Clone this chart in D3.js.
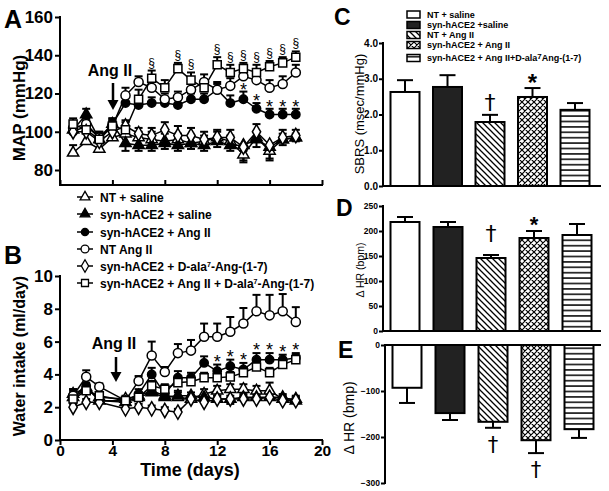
<!DOCTYPE html>
<html><head><meta charset="utf-8">
<script src="https://cdn.jsdelivr.net/npm/d3@7"></script>
<style>
body{margin:0;background:#fff}
svg{display:block}
text{font-family:"Liberation Sans",Arial,Helvetica,sans-serif;fill:#000}
</style>
</head><body>
<svg id="chart" width="609" height="491"></svg>
<script>
// ---------------- DATA ----------------
const seriesNames = ["NT + saline","syn-hACE2 + saline","syn-hACE2 + Ang II","NT Ang II","syn-hACE2 + D-ala7-Ang-(1-7)","syn-hACE2 + Ang II + D-ala7-Ang-(1-7)"];

// Panel A: MAP (mmHg), days 1-18
const daysA = [1,2,3,4,5,6,7,8,9,10,11,12,13,14,15,16,17,18];
const mapNTsaline   = [89,95,91,97,99,97,96,95,96,94,95,97,95,88,97,90,96,97];
const mapSynSaline  = [101,109,96,104,94,93,93,94,93,94,93,95,93,93,96,92,96,97];
const mapSynAngII   = [100,103,97,104,115,114,115,115,114,117,117,122,115,117,112,109,109,109];
const mapNTAngII    = [102,104,97,103,119,126,123,117,118,122,126,122,124,129,127,123,125,131];
const mapSynDala    = [100,100,95,100,103,99,98,101,98,98,96,97,97,92,100,93,97,98];
const mapSynAngDala = [104,101,96,103,101,117,128,123,133,127,123,135,131,133,131,134,136,139];
const mapErrNTsaline   = [4,4,3,3,3,3,4,4,3,3,3,3,3,-3,3,-4,3,2];
const mapErrSynSaline  = [3,3,3,3,-4,-3,-3,-3,-3,-3,-3,-3,-3,-3,-4,-3,-3,-2];
const mapErrSynAngII   = [3,3,3,3,4,4,3,3,3,3,3,4,4,4,3,3,3,3];
const mapErrNTAngII    = [3,3,3,3,4,3,3,3,3,3,4,3,4,3,4,4,4,4];
const mapErrSynDala    = [3,3,3,3,3,3,4,4,5,4,4,4,4,-8,4,-8,4,3];
const mapErrSynAngDala = [3,3,3,3,4,5,4,4,3,4,4,4,4,3,4,3,3,3];
const mapSectionDays  = [7,9,10,12,13,14,15,16,17,18];   // § markers
const mapAsteriskDays = [14,15,16,17,18];                 // * markers

// Panel B: Water intake (ml/day), day 4 not measured
const daysB = [1,2,3,5,6,7,8,9,10,11,12,13,14,15,16,17,18];
const wiNTsaline   = [2.6,3.1,2.6,2.5,2.7,3.0,2.7,2.6,2.5,2.8,3.0,3.1,3.1,3.0,3.0,2.5,2.5];
const wiSynSaline  = [2.8,3.2,2.4,2.3,2.6,2.9,2.6,2.7,2.7,2.6,2.5,2.5,2.6,2.6,2.6,2.6,2.4];
const wiSynAngII   = [2.6,3.3,2.4,2.4,2.8,4.0,2.8,3.8,3.8,4.7,4.2,4.5,4.3,4.9,4.9,4.9,5.0];
const wiNTAngII    = [2.7,3.85,3.25,2.4,3.6,5.15,4.15,5.3,5.45,6.3,6.3,6.6,7.1,7.85,7.6,7.85,7.2];
const wiSynDala    = [2.0,2.3,2.3,1.9,2.0,1.9,1.8,1.7,2.5,2.3,2.5,2.5,2.5,2.5,2.6,2.4,2.4];
const wiSynAngDala = [2.5,3.0,2.7,2.4,2.6,3.3,3.1,3.5,3.55,3.8,3.8,3.85,4.1,4.45,4.1,4.6,4.9];
const wiErrNTsaline   = [0.3,0.3,0.2,0.2,0.2,0.3,0.3,0.3,0.2,0.3,0.3,0.3,0.3,0.3,0.5,0.2,0.2];
const wiErrSynSaline  = [0.3,0.3,0.2,0.2,0.2,0.3,0.3,0.3,0.2,0.2,0.2,-0.3,0.2,0.2,0.2,0.2,0.2];
const wiErrSynAngII   = [0.4,0.4,0.2,0.2,0.3,0.4,0.3,0.4,0.3,0.4,0.4,0.4,0.4,0.4,0.4,0.3,0.3];
const wiErrNTAngII    = [0.4,0.4,0.2,0.2,0.3,0.85,0.3,0.55,0.65,0.8,0.8,0.9,0.95,1.0,1.25,1.05,0.9];
const wiErrSynDala    = [0.2,0.2,0.2,0.2,0.2,0.2,0.2,0.2,0.2,0.2,0.2,0.2,0.2,0.2,0.2,0.2,0.2];
const wiErrSynAngDala = [0.3,0.3,0.2,0.2,0.2,0.3,0.3,0.3,0.3,0.3,0.3,0.3,0.3,0.3,0.3,0.3,0.3];
const wiAsteriskDays = [12,13,14,15,16,17,18];

const xTicks = [0,4,8,12,16,20];
const mapTicks = [80,100,120,140,160];
const wiTicks = [0,2,4,6,8,10];

// Panels C-E: bar groups
const barGroups = ["NT + saline","syn-hACE2 +saline","NT + Ang II","syn-hACE2 + Ang II","syn-hACE2 + Ang II+D-ala7Ang-(1-7)"];
const sbrs    = [2.63,2.77,1.79,2.49,2.13];
const sbrsErr = [0.33,0.33,0.20,0.25,0.19];
const dhrUp    = [218,208,146,186,192];
const dhrUpErr = [10,10,6,14,22];
const dhrDown    = [-93,-148,-167,-207,-183];
const dhrDownErr = [-33,-15,-13,-28,-19];
const sbrsTicks = [0,1,2,3,4];
const dhrUpTicks = [0,50,100,150,200,250];
const dhrDownTicks = [0,-100,-200,-300];
const cDagger = [2], cStar = [3];
const dDagger = [2], dStar = [3];
const eDagger = [2,3];

// ---------------- DRAW ----------------
const svg = d3.select("#chart");
const FONT = '"Liberation Sans",Arial,sans-serif';
const defs = svg.append("defs");
defs.append("pattern").attr("id","pDiag").attr("patternUnits","userSpaceOnUse")
  .attr("width",6).attr("height",6)
  .append("path").attr("d","M0,0L6,6M-1,5L1,7M5,-1L7,1").attr("stroke","#000").attr("stroke-width",1.3);
const pc = defs.append("pattern").attr("id","pCross").attr("patternUnits","userSpaceOnUse")
  .attr("width",6).attr("height",6);
pc.append("rect").attr("width",6).attr("height",6).attr("fill","#fff");
pc.append("path").attr("d","M0,0L6,6M6,0L0,6M-1,5L1,7M5,-1L7,1M-1,1L1,-1M5,7L7,5").attr("stroke","#000").attr("stroke-width",1.2);
defs.append("pattern").attr("id","pHoriz").attr("patternUnits","userSpaceOnUse")
  .attr("width",6).attr("height",5.4)
  .append("path").attr("d","M0,2.7H6").attr("stroke","#000").attr("stroke-width",1.5);

const styles = [
  {sym:d3.symbolTriangle, fill:"#fff", size:55},
  {sym:d3.symbolTriangle, fill:"#000", size:55},
  {sym:d3.symbolCircle,   fill:"#000", size:55},
  {sym:d3.symbolCircle,   fill:"#fff", size:65},
  {sym:d3.symbolDiamond,  fill:"#fff", size:60},
  {sym:d3.symbolSquare,   fill:"#fff", size:65}
];

const x = d3.scaleLinear().domain([0,20]).range([60,322]);

function drawLinePanel(g, y, xs, valsList, errList) {
  const line = d3.line().x((d,i)=>x(xs[i])).y(d=>y(d));
  valsList.forEach((vals,k)=>{
    g.append("path").attr("d",line(vals)).attr("fill","none").attr("stroke","#000").attr("stroke-width",1.5);
  });
  valsList.forEach((vals,k)=>{
    const errs = errList[k];
    vals.forEach((v,i)=>{
      const e = errs[i];
      const y0 = y(v), y1 = y(v+e), cx = x(xs[i]);
      g.append("line").attr("x1",cx).attr("x2",cx).attr("y1",y0).attr("y2",y1).attr("stroke","#000").attr("stroke-width",2);
      g.append("line").attr("x1",cx-4).attr("x2",cx+4).attr("y1",y1).attr("y2",y1).attr("stroke","#000").attr("stroke-width",2);
    });
  });
  valsList.forEach((vals,k)=>{
    const st = styles[k];
    g.selectAll(null).data(vals).enter().append("path")
      .attr("d", d3.symbol().type(st.sym).size(st.size))
      .attr("transform",(d,i)=>`translate(${x(xs[i])},${y(d)})`)
      .attr("fill",st.fill).attr("stroke","#000").attr("stroke-width",1.5);
  });
}

function styleAxis(sel, fs, bold) {
  sel.selectAll("text").style("font-family",FONT).style("font-size",fs+"px").style("font-weight",bold?"bold":"normal").attr("fill","#000");
  sel.selectAll("line").attr("stroke","#000").attr("stroke-width",2);
  sel.select(".domain").remove();
}

// ---- Panel A ----
const yA = d3.scaleLinear().domain([80,160]).range([170,17]);
const gA = svg.append("g");
gA.append("g").attr("transform","translate(60,0)")
  .call(d3.axisLeft(yA).tickValues(mapTicks).tickSize(5).tickPadding(2))
  .call(s=>styleAxis(s,17,true));
gA.append("line").attr("x1",60).attr("x2",60).attr("y1",yA(160)-1).attr("y2",186).attr("stroke","#000").attr("stroke-width",2);
gA.append("g").attr("transform","translate(0,185)")
  .call(d3.axisBottom(x).tickValues(xTicks).tickSize(-5).tickFormat(""))
  .call(s=>styleAxis(s,12,true));
gA.append("line").attr("x1",59).attr("x2",323).attr("y1",185).attr("y2",185).attr("stroke","#000").attr("stroke-width",2);

const mapVals = [mapNTsaline,mapSynSaline,mapSynAngII,mapNTAngII,mapSynDala,mapSynAngDala];
const mapErrs = [mapErrNTsaline,mapErrSynSaline,mapErrSynAngII,mapErrNTAngII,mapErrSynDala,mapErrSynAngDala];
drawLinePanel(gA, yA, daysA, mapVals, mapErrs);
mapSectionDays.forEach(d=>{
  const i = daysA.indexOf(d);
  gA.append("text").attr("x",x(d)).attr("y",yA(mapSynAngDala[i]+mapErrSynAngDala[i])-4)
    .attr("text-anchor","middle").style("font-size","12px").text("§");
});
mapAsteriskDays.forEach(d=>{
  const i = daysA.indexOf(d);
  gA.append("text").attr("x",x(d)).attr("y",yA(mapSynAngII[i]+mapErrSynAngII[i])+4)
    .attr("text-anchor","middle").style("font-size","18px").text("*");
});
gA.append("text").attr("x",110).attr("y",76).attr("text-anchor","middle")
  .style("font-size","16px").style("font-weight","bold").text("Ang II");
gA.append("line").attr("x1",113).attr("x2",113).attr("y1",83).attr("y2",103).attr("stroke","#000").attr("stroke-width",2.5);
gA.append("path").attr("d","M107.5,100L118.5,100L113,110Z").attr("fill","#000");
gA.append("text").attr("transform","translate(25,108) rotate(-90)").attr("text-anchor","middle")
  .style("font-size","17px").style("font-weight","bold").text("MAP (mmHg)");
svg.append("text").attr("x",4).attr("y",28).style("font-size","25px").style("font-weight","bold").text("A");

// ---- Legend A/B ----
const legY = [197,214,232,249,266,283];
const gL = svg.append("g");
seriesNames.forEach((n,k)=>{
  const yy = legY[k];
  gL.append("line").attr("x1",77).attr("x2",93).attr("y1",yy).attr("y2",yy).attr("stroke","#000").attr("stroke-width",1.5);
  gL.append("path").attr("d",d3.symbol().type(styles[k].sym).size(styles[k].size*0.75)())
    .attr("transform",`translate(85,${yy})`).attr("fill",styles[k].fill).attr("stroke","#000").attr("stroke-width",1.3);
  const t = gL.append("text").attr("x",100).attr("y",yy+4.5).style("font-size","12px").style("font-weight","bold");
  if (n.includes("D-ala7")) {
    const parts = n.split("D-ala7");
    t.append("tspan").text(parts[0]+"D-ala");
    t.append("tspan").attr("dy",-4).style("font-size","7px").text("7");
    t.append("tspan").attr("dy",4).text(parts[1]);
  } else t.text(n);
});

// ---- Panel B ----
const yB = d3.scaleLinear().domain([0,10]).range([440,276]);
const gB = svg.append("g");
gB.append("g").attr("transform","translate(60,0)")
  .call(d3.axisLeft(yB).tickValues(wiTicks).tickSize(5).tickPadding(2))
  .call(s=>styleAxis(s,17,true));
gB.append("line").attr("x1",60).attr("x2",60).attr("y1",275).attr("y2",441).attr("stroke","#000").attr("stroke-width",2);
gB.append("g").attr("transform","translate(0,440)")
  .call(d3.axisBottom(x).tickValues(xTicks).tickSize(5).tickPadding(0))
  .call(s=>styleAxis(s,15.5,true));
gB.append("line").attr("x1",59).attr("x2",323).attr("y1",440).attr("y2",440).attr("stroke","#000").attr("stroke-width",2);
const wiVals = [wiNTsaline,wiSynSaline,wiSynAngII,wiNTAngII,wiSynDala,wiSynAngDala];
const wiErrs = [wiErrNTsaline,wiErrSynSaline,wiErrSynAngII,wiErrNTAngII,wiErrSynDala,wiErrSynAngDala];
drawLinePanel(gB, yB, daysB, wiVals, wiErrs);
wiAsteriskDays.forEach(d=>{
  const i = daysB.indexOf(d);
  gB.append("text").attr("x",x(d)).attr("y",yB(wiSynAngII[i]+wiErrSynAngII[i])+3)
    .attr("text-anchor","middle").style("font-size","18px").text("*");
});
gB.append("text").attr("x",114).attr("y",349).attr("text-anchor","middle")
  .style("font-size","16px").style("font-weight","bold").text("Ang II");
gB.append("line").attr("x1",116).attr("x2",116).attr("y1",357).attr("y2",375).attr("stroke","#000").attr("stroke-width",2.5);
gB.append("path").attr("d","M110.5,372L121.5,372L116,382Z").attr("fill","#000");
gB.append("text").attr("transform","translate(25,356) rotate(-90)").attr("text-anchor","middle")
  .style("font-size","16px").style("font-weight","bold").text("Water intake (ml/day)");
gB.append("text").attr("x",190).attr("y",476).attr("text-anchor","middle")
  .style("font-size","18px").style("font-weight","bold").text("Time (days)");
svg.append("text").attr("x",4).attr("y",264).style("font-size","25px").style("font-weight","bold").text("B");

// ---- Bar panels ----
const fills = ["#fff","#222","url(#pDiag)","url(#pCross)","url(#pHoriz)"];
function barPanel(opt) {
  const g = svg.append("g");
  const xb = d3.scalePoint().domain(barGroups).range(opt.xr);
  const y = opt.y;
  const bw = 29;
  g.append("g").attr("transform",`translate(${opt.axisX},0)`)
    .call(d3.axisLeft(y).tickValues(opt.ticks).tickSize(4).tickPadding(1))
    .call(s=>styleAxis(s,opt.fs,true));
  g.append("line").attr("x1",opt.axisX).attr("x2",opt.axisX).attr("y1",opt.yTop).attr("y2",opt.yBot).attr("stroke","#000").attr("stroke-width",2);
  opt.vals.forEach((v,i)=>{
    const cx = xb(barGroups[i]);
    const e = opt.errs[i];
    const y1 = y(v+e);
    g.append("line").attr("x1",cx).attr("x2",cx).attr("y1",y(v)).attr("y2",y1).attr("stroke","#000").attr("stroke-width",2);
    g.append("line").attr("x1",cx-8).attr("x2",cx+8).attr("y1",y1).attr("y2",y1).attr("stroke","#000").attr("stroke-width",2);
    const top = Math.min(y(v),y(0)), h = Math.abs(y(v)-y(0));
    if (fills[i] !== "#fff" && fills[i] !== "#222") g.append("rect").attr("x",cx-bw/2).attr("y",top).attr("width",bw).attr("height",h).attr("fill","#fff");
    g.append("rect").attr("x",cx-bw/2).attr("y",top).attr("width",bw).attr("height",h)
      .attr("fill",fills[i]).attr("stroke","#000").attr("stroke-width",2);
  });
  g.append("line").attr("x1",opt.axisX-1).attr("x2",601).attr("y1",y(0)).attr("y2",y(0)).attr("stroke","#000").attr("stroke-width",2);
  (opt.daggers||[]).forEach(i=>{
    const cx = xb(barGroups[i]), v = opt.vals[i]+opt.errs[i];
    const yy = y(v)+opt.dagOff;
    g.append("text").attr("x",cx).attr("y",yy).attr("text-anchor","middle")
      .style("font-family","'DejaVu Sans',sans-serif").style("font-size",opt.dagFs+"px").attr("fill","#000").text("†");
  });
  (opt.stars||[]).forEach(i=>{
    const cx = xb(barGroups[i]), v = opt.vals[i]+opt.errs[i];
    g.append("text").attr("x",cx).attr("y",y(v)+opt.starOff).attr("text-anchor","middle")
      .style("font-size",opt.starFs+"px").style("font-weight","bold").text("*");
  });
  g.append("text").attr("transform",`translate(${opt.labX},${opt.labY}) rotate(-90)`).attr("text-anchor","middle")
    .style("font-size",opt.labFs+"px").text(opt.label);
  svg.append("text").attr("x",opt.letX).attr("y",opt.letY).style("font-size","23px").style("font-weight","bold").text(opt.letter);
  return g;
}

barPanel({xr:[405,575], y:d3.scaleLinear().domain([0,4]).range([186,43]), ticks:sbrsTicks, fs:10, axisX:383, yTop:42, yBot:187,
  vals:sbrs, errs:sbrsErr, daggers:cDagger, stars:cStar, dagFs:22, dagOff:-5, starFs:24, starOff:3,
  label:"SBRS (msec/mmHg)", labFs:13, labX:364, labY:114, letter:"C", letX:334, letY:25});
barPanel({xr:[405,577], y:d3.scaleLinear().domain([0,250]).range([331,206]), ticks:dhrUpTicks, fs:8.5, axisX:383, yTop:205, yBot:332,
  vals:dhrUp, errs:dhrUpErr, daggers:dDagger, stars:dStar, dagFs:22, dagOff:-14, starFs:22, starOff:1,
  label:"\u0394 HR (bpm)", labFs:10.5, labX:364, labY:270, letter:"D", letX:336, letY:216});
barPanel({xr:[407,579], y:d3.scaleLinear().domain([-300,0]).range([483,345]), ticks:dhrDownTicks, fs:8.5, axisX:385, yTop:344, yBot:484,
  vals:dhrDown, errs:dhrDownErr, daggers:eDagger, stars:[], dagFs:21, dagOff:24, starFs:20, starOff:0,
  label:"\u0394 HR (bmp)", labFs:14, labX:354, labY:418, letter:"E", letX:338, letY:358});

// Legend C
const legCY = [14.5,25,35,45,58];
barGroups.forEach((n,i)=>{
  const yy = legCY[i];
  if (i>=2) svg.append("rect").attr("x",407).attr("y",yy-3.5).attr("width",13).attr("height",7).attr("fill","#fff");
  svg.append("rect").attr("x",407).attr("y",yy-3.5).attr("width",13).attr("height",7)
    .attr("fill",fills[i]).attr("stroke","#000").attr("stroke-width",1.5);
  const t = svg.append("text").attr("x",427).attr("y",yy+3.3).style("font-size","9px").style("font-weight","bold");
  if (n.includes("D-ala7")) {
    const parts = n.split("D-ala7");
    t.append("tspan").text(parts[0]+"D-ala");
    t.append("tspan").attr("dy",-2.5).style("font-size","8px").text("7");
    t.append("tspan").attr("dy",2.5).text(parts[1]);
  } else t.text(n);
});
</script>
</body></html>
